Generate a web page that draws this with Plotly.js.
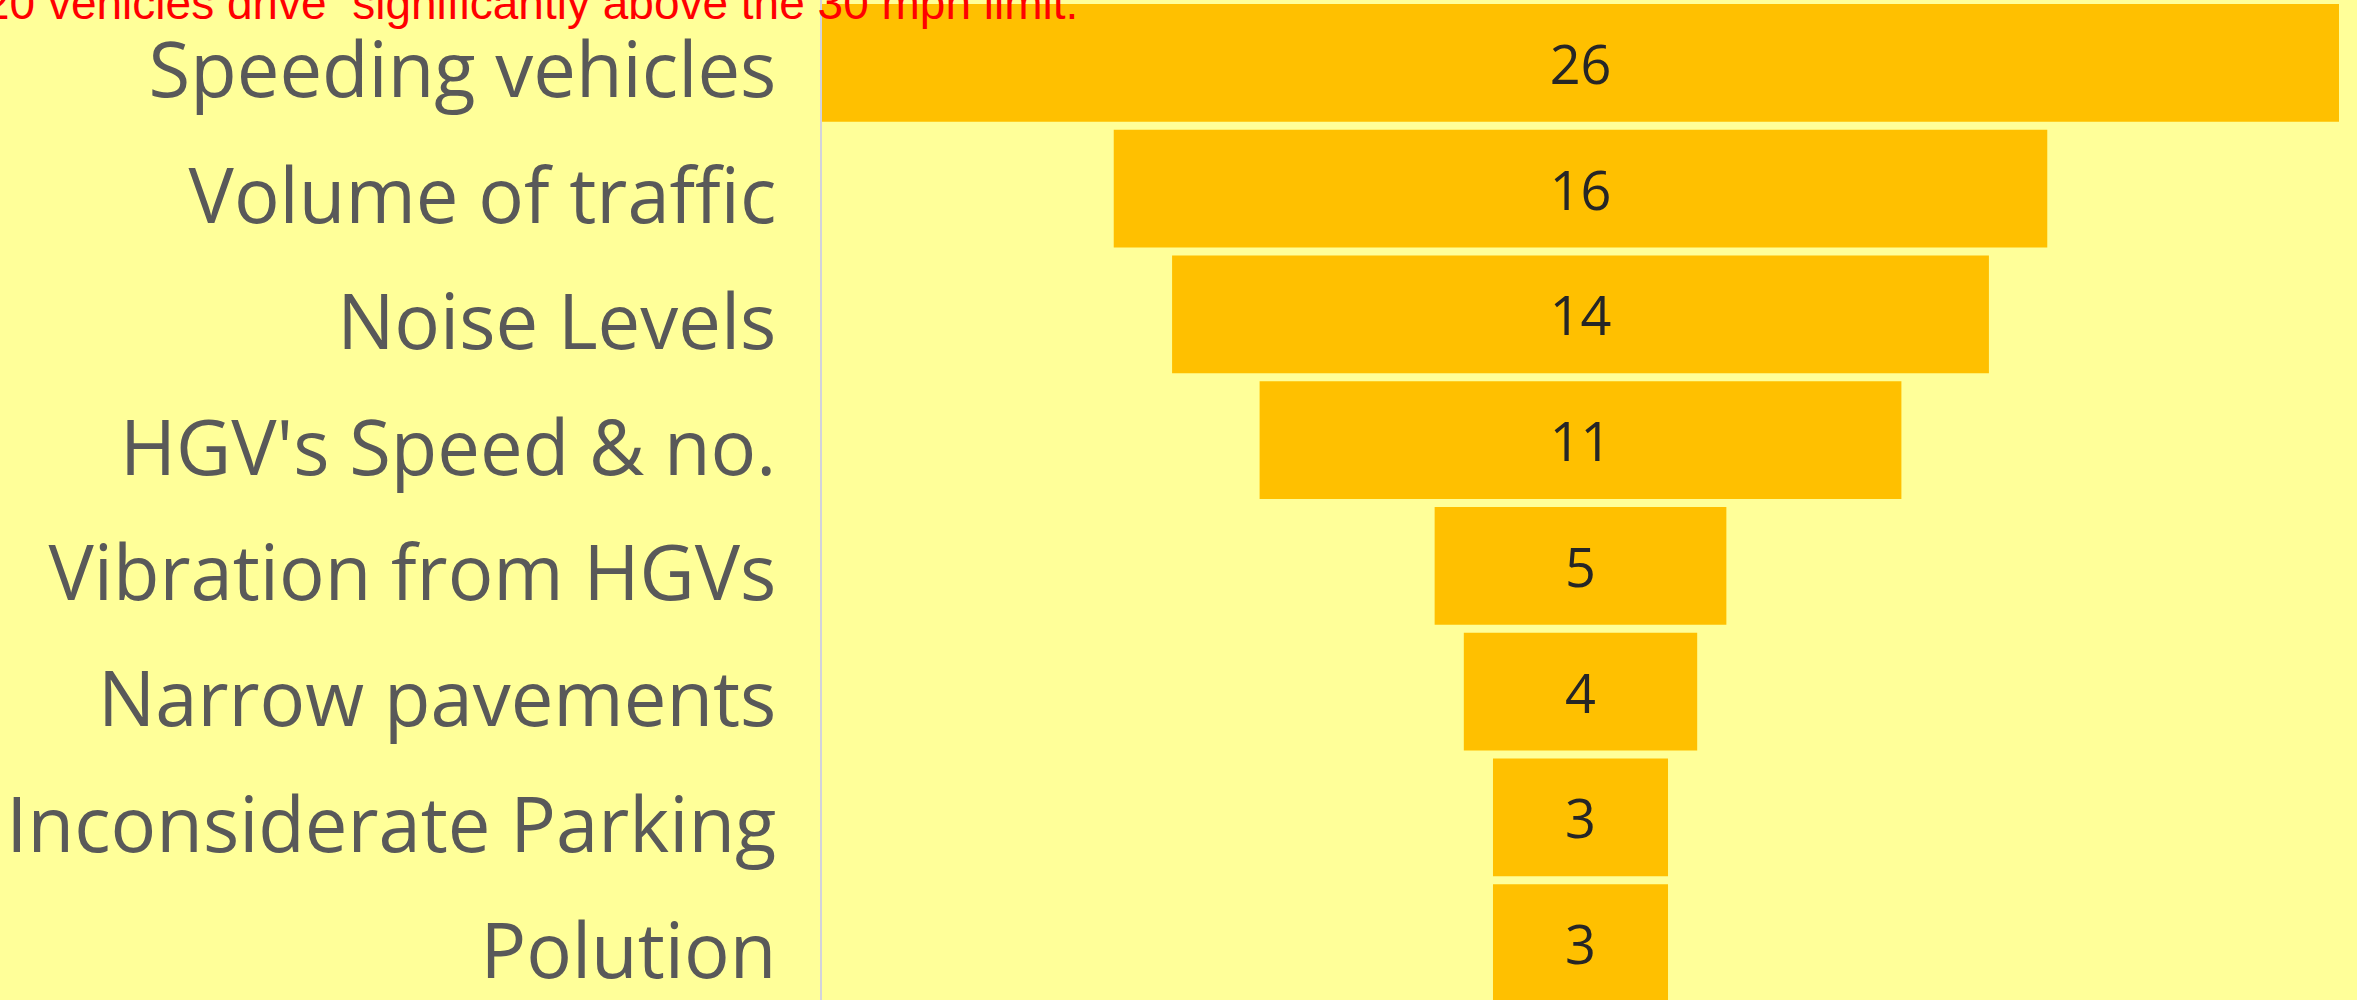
<!DOCTYPE html>
<html>
<head>
<meta charset="utf-8">
<script src="https://cdn.plot.ly/plotly-3.0.1.min.js"></script>
<style>
  html, body { margin: 0; padding: 0; overflow: hidden; background: #FFFF99; }
  #chart { width: 2357px; height: 1006px; }
</style>
</head>
<body>
<div id="chart"></div>
<script>
// concerns raised, number of mentions
var issues = ['Speeding vehicles', 'Volume of traffic', 'Noise Levels', "HGV's Speed & no.",
              'Vibration from HGVs', 'Narrow pavements', 'Inconsiderate Parking', 'Polution'];
var mentions = [26, 16, 14, 11, 5, 4, 3, 3];
var headline = '20 vehicles drive\u00a0 significantly above the 30 mph limit.';

var maxVal = Math.max.apply(null, mentions);

var trace = {
    type: 'funnel',
    y: issues,
    x: mentions,
    textinfo: 'value',
    textposition: 'inside',
    insidetextfont: { family: 'Open Sans', size: 54, color: '#262626' },
    marker: { color: '#FFC000', line: { width: 0 } },
    connector: { visible: false },
    hoverinfo: 'none'
};

var layout = {
    width: 2357,
    height: 1006,
    margin: { l: 822, r: 18, t: 0, b: 0, pad: 0 },
    paper_bgcolor: '#FFFF99',
    plot_bgcolor: '#FFFF99',
    funnelgap: 0.064,
    showlegend: false,
    xaxis: {
        visible: false,
        range: [-maxVal / 2, maxVal / 2],
        fixedrange: true
    },
    yaxis: {
        showline: true,
        linecolor: '#D3D3DC',
        linewidth: 2.5,
        showgrid: false,
        zeroline: false,
        ticks: '',
        ticklabelstandoff: 28,
        ticklabelshift: -8,
        automargin: false,
        tickfont: { family: 'Open Sans', size: 76, color: '#595959' },
        fixedrange: true
    },
    annotations: [{
        text: headline,
        xref: 'paper',
        yref: 'paper',
        x: (1080 - 822) / 1517,
        y: 1,
        xanchor: 'right',
        yanchor: 'middle',
        yshift: -3,
        showarrow: false,
        font: { family: 'Arial', size: 46, color: '#FF0000' }
    }]
};

Plotly.newPlot('chart', [trace], layout, { displayModeBar: false, staticPlot: true });
</script>
</body>
</html>
